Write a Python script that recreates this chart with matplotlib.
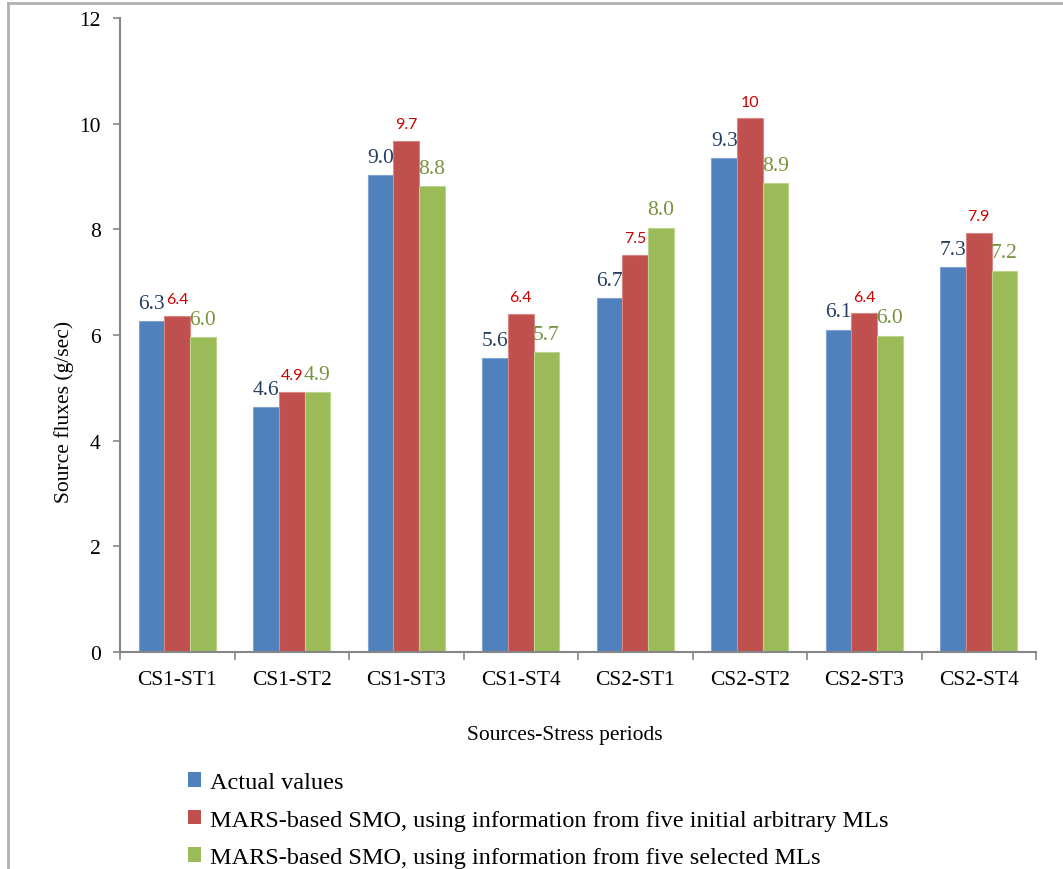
import matplotlib
matplotlib.use("Agg")
import matplotlib.pyplot as plt
import numpy as np
from matplotlib.lines import Line2D
from matplotlib.patches import Patch

categories = ["CS1-ST1", "CS1-ST2", "CS1-ST3", "CS1-ST4",
              "CS2-ST1", "CS2-ST2", "CS2-ST3", "CS2-ST4"]
actual = [6.26, 4.64, 9.03, 5.56, 6.70, 9.35, 6.10, 7.28]
mars_arbitrary = [6.36, 4.93, 9.67, 6.40, 7.51, 10.1, 6.41, 7.94]
mars_selected = [5.96, 4.92, 8.82, 5.67, 8.03, 8.88, 5.99, 7.22]
series_names = ["Actual values",
                "MARS-based SMO, using information from five initial arbitrary MLs",
                "MARS-based SMO, using information from five selected MLs"]
yticks = [0, 2, 4, 6, 8, 10, 12]

bar_colors = ["#4F81BD", "#C0504D", "#9BBB59"]
edge_colors = ["#7FA3D3", "#DA8683", "#BBD38C"]
label_colors = ["#243F60", "#CC0000", "#77933C"]

serif = "Liberation Serif"
sans = "Lato"

fig = plt.figure(figsize=(10.63, 8.70), dpi=100)
ax = fig.add_axes([120 / 1063, 1 - 653 / 870, 916 / 1063, 634 / 870])

x = np.arange(len(categories))
width = 0.223
offsets = [-width, 0, width]
series = [actual, mars_arbitrary, mars_selected]

for vals, off, fc, ec, lc, name in zip(series, offsets, bar_colors, edge_colors,
                                        label_colors, series_names):
    bars = ax.bar(x + off, vals, width, color=fc, edgecolor=ec, linewidth=0.8,
                  label=name)
    if fc == "#C0504D":
        labels = [f"{v:.2g}" for v in vals]
        ax.bar_label(bars, labels=labels, padding=7, color=lc, fontsize=11.5,
                     family=sans)
    else:
        labels = [f"{v:.1f}" for v in vals]
        ax.bar_label(bars, labels=labels, padding=6, color=lc, fontsize=15.5,
                     family=serif)

ax.set_xlim(-0.5, len(categories) - 0.5)
ax.set_ylim(0, 12)
ax.set_yticks(yticks)
ax.set_yticklabels([str(t) for t in yticks], family=serif, fontsize=15.5)
ax.set_xticks(x)
ax.set_xticklabels(categories, family=serif, fontsize=15.5)
ax.tick_params(axis="x", length=0, pad=13)
ax.set_xticks(np.arange(-0.5, len(categories)), minor=True)
ax.tick_params(axis="x", which="minor", length=6, width=1.2, color="#868686",
               direction="out")
ax.tick_params(axis="y", length=5, width=1.2, color="#868686", pad=9)

for s in ["top", "right"]:
    ax.spines[s].set_visible(False)
for s in ["left", "bottom"]:
    ax.spines[s].set_color("#868686")
    ax.spines[s].set_linewidth(1.5)

ax.set_ylabel("Source fluxes (g/sec)", family=serif, fontsize=15.5)
ax.yaxis.set_label_coords(-0.050, 0.38)
ax.set_xlabel("Sources-Stress periods", family=serif, fontsize=15.5)
ax.xaxis.set_label_coords(0.486, -0.115)

handles = [Patch(facecolor=c, edgecolor="none") for c in bar_colors]
fig.legend(handles, series_names, loc="upper left",
           bbox_to_anchor=(188 / 1063, 1 - 773 / 870), frameon=False,
           prop={"family": serif, "size": 17.5}, handlelength=0.55,
           handleheight=0.55, handletextpad=0.35, labelspacing=0.68,
           borderaxespad=0, borderpad=0)

# outer frame
fx = 8 / 1063
fy = 1 - 4 / 870
fig.add_artist(Line2D([fx, fx], [0, fy], transform=fig.transFigure,
                      color="#B0B0B0", linewidth=2))
fig.add_artist(Line2D([fx, 1], [fy, fy], transform=fig.transFigure,
                      color="#B0B0B0", linewidth=2))

fig.savefig("out.png", dpi=100)
